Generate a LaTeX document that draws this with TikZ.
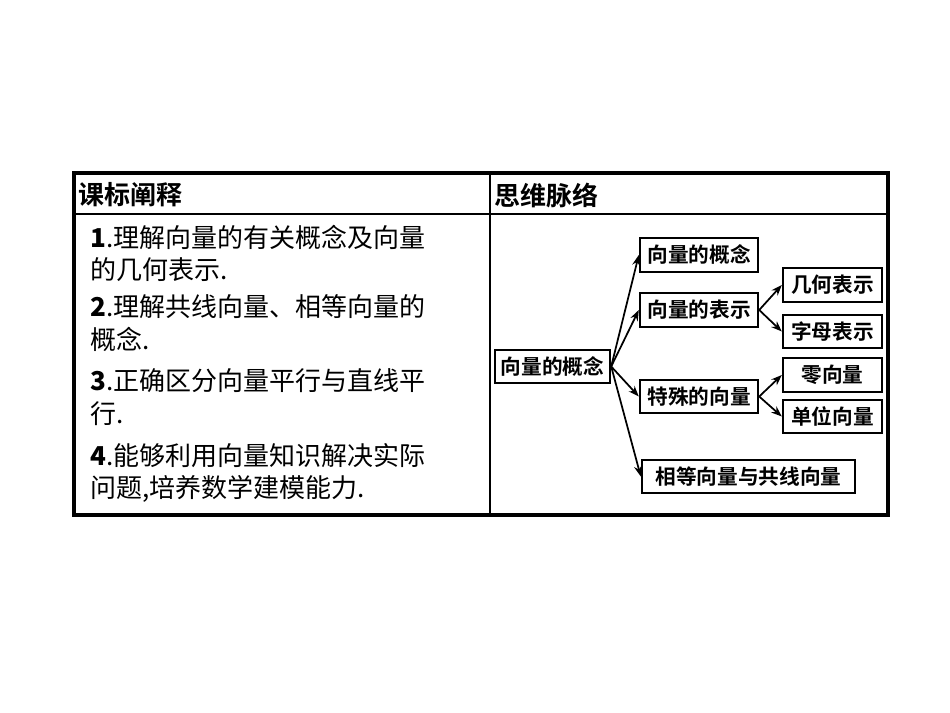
\documentclass[tikz,border=0pt]{standalone}
\usepackage{fontspec}
\setmainfont{Liberation Serif}
\newfontfamily\cjk{Noto Sans CJK SC}
\newfontfamily\cjkb{Noto Sans CJK SC Bold}
\usetikzlibrary{arrows.meta}
\begin{document}
\begin{tikzpicture}[x=0.75pt,y=-0.75pt,
  bx/.style={draw,line width=1.8pt,inner sep=0pt,font=\cjkb\fontsize{15.5}{17}\selectfont},
  ar/.style={-{Stealth[length=8pt,width=6pt]},line width=1.3pt},
  lt/.style={anchor=west,font=\cjk\fontsize{19.5}{22}\selectfont,inner sep=0pt},
  hd/.style={anchor=west,font=\cjkb\fontsize{19.5}{22}\selectfont,inner sep=0pt}]
\useasboundingbox (0,0) rectangle (950,713);
\draw[line width=2.6pt] (74,173) rectangle (888,515);
\draw[line width=1.4pt] (74,214) -- (888,214);
\draw[line width=1.4pt] (490,173) -- (490,515);
\node[hd] (h1) at (78,195) {课标阐释};
\node[hd] (h2) at (494,195) {思维脉络};
\node[lt] (l1) at (90,237) {\textbf{1}.理解向量的有关概念及向量};
\node[lt] (l2) at (90,270) {的几何表示.};
\node[lt] (l3) at (90,307) {\textbf{2}.理解共线向量、相等向量的};
\node[lt] (l4) at (90,339) {概念.};
\node[lt] (l5) at (90,381) {\textbf{3}.正确区分向量平行与直线平};
\node[lt] (l6) at (90,414) {行.};
\node[lt] (l7) at (90,456) {\textbf{4}.能够利用向量知识解决实际};
\node[lt] (l8) at (90,489) {问题,培养数学建模能力.};
\node[bx,minimum width=115*0.75pt,minimum height=33*0.75pt] (r) at (552.5,366.5) {向量的概念};
\node[bx,minimum width=118*0.75pt,minimum height=34*0.75pt] (a) at (699,255) {向量的概念};
\node[bx,minimum width=118*0.75pt,minimum height=34*0.75pt] (b) at (699,310) {向量的表示};
\node[bx,minimum width=118*0.75pt,minimum height=33*0.75pt] (c) at (699,396.5) {特殊的向量};
\node[bx,minimum width=213*0.75pt,minimum height=33*0.75pt] (d) at (748.5,476.5) {相等向量与共线向量};
\node[bx,minimum width=99*0.75pt,minimum height=34*0.75pt] (b1) at (832.5,285) {几何表示};
\node[bx,minimum width=99*0.75pt,minimum height=33*0.75pt] (b2) at (832.5,331.5) {字母表示};
\node[bx,minimum width=99*0.75pt,minimum height=34*0.75pt] (c1) at (832.5,375) {零向量};
\node[bx,minimum width=99*0.75pt,minimum height=33*0.75pt] (c2) at (832.5,416.5) {单位向量};
\foreach \t in {a,b,c,d} \draw[ar] (r.east) -- (\t.west);
\draw[ar] (b.east) -- (b1.west);
\draw[ar] (b.east) -- (b2.west);
\draw[ar] (c.east) -- (c1.west);
\draw[ar] (c.east) -- (c2.west);
\end{tikzpicture}
\end{document}
